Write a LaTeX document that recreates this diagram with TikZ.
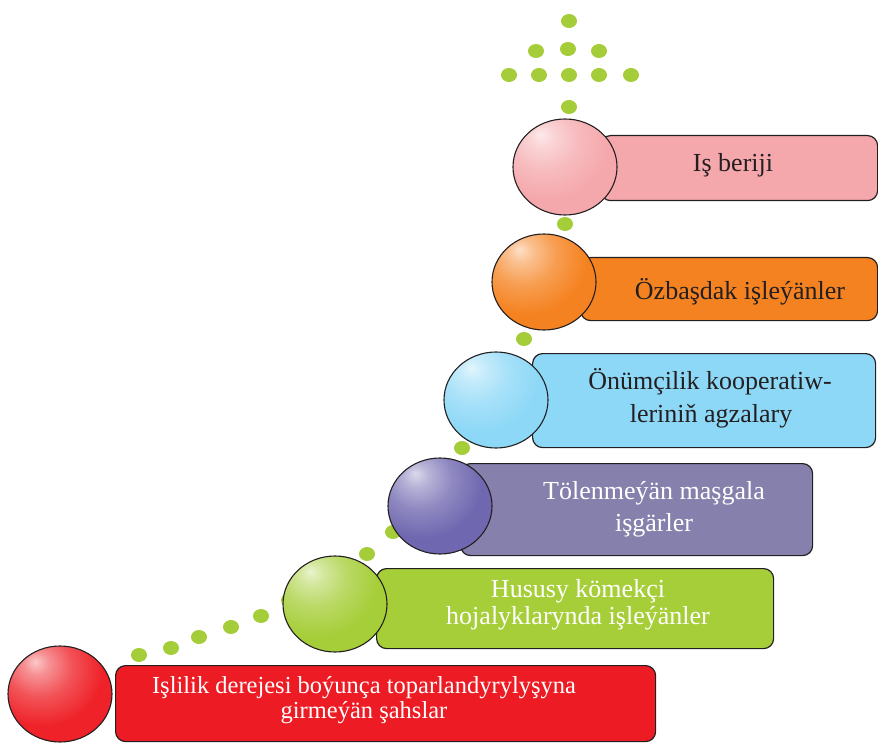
\documentclass[tikz,border=0pt]{standalone}
\usepackage{fontspec}
\setmainfont{Liberation Serif}
\usetikzlibrary{shapes.geometric}
\definecolor{cRed}{HTML}{ED1C24}
\definecolor{cRedBall}{HTML}{EE2228}
\definecolor{cGreen}{HTML}{A6CE39}
\definecolor{cPurpleBox}{HTML}{8680AC}
\definecolor{cPurple}{HTML}{6F67AF}
\definecolor{cBlue}{HTML}{8DD8F7}
\definecolor{cOrange}{HTML}{F58220}
\definecolor{cPink}{HTML}{F5A8AC}
\definecolor{cDot}{HTML}{A5CD39}
\definecolor{cInk}{HTML}{231F20}
\newcommand\mkball[2]{\pgfdeclareradialshading{ball#1}{\pgfpoint{-12bp}{17bp}}{color(0bp)=(#2!25!white); color(6bp)=(#2!50!white); color(16bp)=(#2!78!white); color(29bp)=(#2); color(100bp)=(#2)}}
\mkball{R}{cRedBall}
\mkball{G}{cGreen}
\mkball{P}{cPurple}
\mkball{B}{cBlue}
\mkball{O}{cOrange}
\mkball{K}{cPink}
\tikzset{
  ballnode/.style={ellipse, draw=cInk, line width=1.1pt, minimum width=104pt, minimum height=96pt, inner sep=0pt},
  boxnode/.style={rectangle, rounded corners=10pt, draw=cInk, line width=1.2pt, inner sep=0pt, anchor=north west},
  dot/.style={fill=cDot},
  txtw/.style={anchor=base, inner sep=0pt, text=white, font=\fontsize{26}{28}\selectfont},
  txtd/.style={anchor=base, inner sep=0pt, text=cInk, font=\fontsize{26}{28}\selectfont}
}
\begin{document}
\begin{tikzpicture}[x=1pt,y=1pt]
\useasboundingbox (0,0) rectangle (878,-743);
% dots
\foreach \p in {(139,-655),(171,-648),(199,-637),(231,-627),(261,-616),(289,-600),
  (367,-554),(393,-532),(462,-448),(524,-339),(565,-224),(569,-107),
  (509,-75),(539,-75),(569,-75),(599,-75),(631,-75),
  (536,-51),(568,-49),(599,-51),(569,-21)}
  \fill[dot] \p ellipse (8 and 7);
% boxes
\node[boxnode, fill=cRed, minimum width=540pt, minimum height=76pt] (b1) at (115,-665) {};
\node[boxnode, fill=cGreen, minimum width=397pt, minimum height=80pt] (b2) at (376,-568) {};
\node[boxnode, fill=cPurpleBox, minimum width=352pt, minimum height=92pt] (b3) at (460,-463) {};
\node[boxnode, fill=cBlue, minimum width=343pt, minimum height=94pt] (b4) at (532,-353) {};
\node[boxnode, fill=cOrange, minimum width=297pt, minimum height=63pt] (b5) at (580,-257) {};
\node[boxnode, fill=cPink, minimum width=277pt, minimum height=65pt] (b6) at (600,-135) {};
% spheres
\node[ballnode, shading=ballR] (s1) at (60,-694) {};
\node[ballnode, shading=ballG] (s2) at (335,-604) {};
\node[ballnode, shading=ballP] (s3) at (440,-506) {};
\node[ballnode, shading=ballB] (s4) at (496,-400) {};
\node[ballnode, shading=ballO] (s5) at (544,-282) {};
\node[ballnode, shading=ballK] (s6) at (565,-167) {};
% texts
\node[txtw, font=\fontsize{24.5}{26}\selectfont] (t1a) at (364,-693) {Işlilik derejesi boýunça toparlandyrylyşyna};
\node[txtw, font=\fontsize{24.5}{26}\selectfont] (t1b) at (364,-718) {girmeýän şahslar};
\node[txtw] (t2a) at (578,-597) {Hususy kömekçi};
\node[txtw] (t2b) at (578,-624) {hojalyklarynda işleýänler};
\node[txtw] (t3a) at (654,-499) {Tölenmeýän maşgala};
\node[txtw] (t3b) at (654,-531) {işgärler};
\node[txtd] (t4a) at (710,-389) {Önümçilik kooperatiw-};
\node[txtd] (t4b) at (711,-422) {leriniň agzalary};
\node[txtd] (t5) at (740,-300) {Özbaşdak işleýänler};
\node[txtd] (t6) at (733,-172) {Iş beriji};
\end{tikzpicture}
\end{document}
